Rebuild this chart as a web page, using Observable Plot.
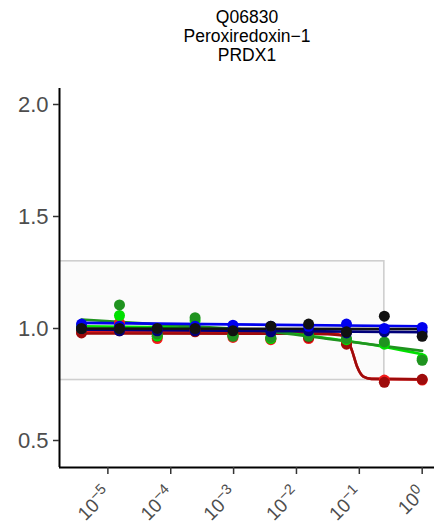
<!DOCTYPE html>
<html><head><meta charset="utf-8">
<script src="https://cdn.jsdelivr.net/npm/d3@7"></script>
<script src="https://cdn.jsdelivr.net/npm/@observablehq/plot@0.6"></script>
<style>
body{margin:0;background:#fff;font-family:"Liberation Sans",Arial,Helvetica,sans-serif;}
#title{box-sizing:border-box;height:72px;padding-top:8px;padding-left:55px;text-align:center;font-size:17.5px;line-height:19px;color:#000;}
#chart svg{display:block;}
</style></head><body>
<div id="title"><div>Q06830</div><div>Peroxiredoxin−1</div><div>PRDX1</div></div>
<div id="chart"></div>
<script>
// ---- data ----
const titleLines = ["Q06830", "Peroxiredoxin−1", "PRDX1"];
const doses = [3.81e-6, 1.53e-5, 6.10e-5, 2.44e-4, 9.77e-4, 3.91e-3, 1.56e-2, 6.25e-2, 0.25, 1];
const seriesNames = ["s1", "s2", "s3", "s4", "s5", "s6", "s7"];
const seriesColors = ["#f21c1c", "#9e0b0b", "#00e000", "#1f931f", "#00007a", "#0000ee", "#111111"];

const s1Vals = [0.985, 1.025, 0.955, 0.990, 0.960, 0.950, 0.955, 0.935, 0.770, 0.770];
const s2Vals = [0.980, 0.990, 0.965, 0.985, 0.970, 0.955, 0.960, 0.930, 0.760, 0.773];
const s3Vals = [1.010, 1.058, 0.966, 1.035, 0.970, 0.955, 0.970, 0.950, 0.930, 0.865];
const s4Vals = [1.000, 1.105, 0.975, 1.048, 0.965, 0.960, 0.965, 0.955, 0.940, 0.858];
const s5Vals = [1.000, 0.990, 0.990, 0.990, 0.995, 0.985, 0.990, 0.980, 0.985, 0.985];
const s6Vals = [1.020, 1.010, 1.000, 1.010, 1.015, 1.010, 1.010, 1.020, 1.000, 1.005];
const s7Vals = [1.000, 1.000, 1.000, 1.000, 0.990, 1.010, 1.020, 0.985, 1.055, 0.965];

// fitted curves (dose, value)
const s1CurveDose = [3.81e-6, 1e-2, 3.16e-2, 5.0e-2, 6.3e-2, 7.67e-2, 9.2e-2, 0.116, 0.156, 1];
const s1CurveVal  = [0.985, 0.983, 0.980, 0.972, 0.955, 0.900, 0.830, 0.785, 0.775, 0.773];
const s2CurveDose = [3.81e-6, 1e-2, 3.16e-2, 5.0e-2, 6.3e-2, 7.67e-2, 9.2e-2, 0.116, 0.156, 1];
const s2CurveVal  = [0.978, 0.977, 0.975, 0.970, 0.955, 0.900, 0.830, 0.785, 0.775, 0.773];
const s3CurveDose = [3.81e-6, 1e-4, 1e-3, 3.98e-3, 3.47e-2, 0.25, 1];
const s3CurveVal  = [1.010, 1.005, 0.998, 0.988, 0.955, 0.918, 0.885];
const s4CurveDose = [3.81e-6, 1e-4, 2.69e-3, 3.47e-2, 1];
const s4CurveVal  = [1.040, 1.015, 0.990, 0.952, 0.900];
const s5CurveDose = [3.81e-6, 1];
const s5CurveVal  = [0.995, 0.984];
const s6CurveDose = [3.81e-6, 1];
const s6CurveVal  = [1.025, 1.010];
const s7CurveDose = [3.81e-6, 1];
const s7CurveVal  = [1.000, 0.998];

const bandLow = 0.77, bandHigh = 1.3, bandDoseMax = 0.25;
const xDomain = [1.7e-6, 1.57];
const yDomain = [0.3795, 2.0714];
const xTicks = [1e-5, 1e-4, 1e-3, 1e-2, 1e-1, 1];
const yTicks = [0.5, 1.0, 1.5, 2.0];

// ---- tables ----
const pointVals = {s1: s1Vals, s2: s2Vals, s3: s3Vals, s4: s4Vals, s5: s5Vals, s6: s6Vals, s7: s7Vals};
const curveDefs = {
  s1: [s1CurveDose, s1CurveVal], s2: [s2CurveDose, s2CurveVal], s3: [s3CurveDose, s3CurveVal],
  s4: [s4CurveDose, s4CurveVal], s5: [s5CurveDose, s5CurveVal], s6: [s6CurveDose, s6CurveVal],
  s7: [s7CurveDose, s7CurveVal]
};
const points = [], curves = [];
for (const s of seriesNames) {
  pointVals[s].forEach((v, i) => points.push({series: s, dose: doses[i], value: v}));
  const [cd, cv] = curveDefs[s];
  cd.forEach((d, i) => curves.push({series: s, dose: d, value: cv[i]}));
}
const band = [{x1: xDomain[0], x2: bandDoseMax, y1: bandLow, y2: bandHigh}];

const font = "Liberation Sans, Arial, Helvetica, sans-serif";
const plot = Plot.plot({
  width: 439, height: 454,
  marginTop: 16, marginBottom: 59, marginLeft: 59, marginRight: 5,
  style: {fontFamily: font, background: "#fff", overflow: "visible"},
  x: {type: "log", domain: xDomain},
  y: {domain: yDomain},
  color: {type: "ordinal", domain: seriesNames, range: seriesColors},
  marks: [
    Plot.rect(band, {x1: "x1", x2: "x2", y1: "y1", y2: "y2", fill: "#fbfbfb", stroke: "#cfcfcf", strokeWidth: 1.6}),
    Plot.line(curves, {x: "dose", y: "value", z: "series", stroke: "series", strokeWidth: 2.6, curve: "monotone-x"}),
    Plot.dot(points, {x: "dose", y: "value", fill: "series", r: 5.5}),
    Plot.ruleX([xDomain[0]], {stroke: "#000", strokeWidth: 2}),
    Plot.ruleY([yDomain[0]], {stroke: "#000", strokeWidth: 2}),
    Plot.axisY({ticks: yTicks, tickFormat: d3.format(".1f"), tickSize: 6, tickPadding: 5, label: null, stroke: "#333", fill: "#4d4d4d", fontSize: 22, strokeWidth: 1.5}),
    Plot.axisX({ticks: xTicks, tickFormat: d => "10^" + Math.round(Math.log10(d)), tickSize: 7, tickPadding: 16, tickRotate: -45, label: null, stroke: "#333", fill: "#4d4d4d", fontSize: 19, strokeWidth: 1.5})
  ]
});
document.getElementById("chart").appendChild(plot);

plot.querySelectorAll('g[aria-label="y-axis tick label"] text').forEach(t => {
  t.style.fontSize = "22px";
});
// superscript exponents on the x tick labels
plot.querySelectorAll('g[aria-label="x-axis tick label"] text').forEach(t => {
  const s = t.textContent;
  const m = s.match(/^10\^(-?\d+)$/);
  if (!m) return;
  const e = m[1].replace("-", "−");
  t.textContent = "";
  t.style.fontSize = "19px";
  const ns = "http://www.w3.org/2000/svg";
  const base = document.createElementNS(ns, "tspan");
  base.textContent = "10";
  const sup = document.createElementNS(ns, "tspan");
  sup.textContent = e;
  sup.setAttribute("dy", "-0.5em");
  sup.style.fontSize = "14.5px";
  t.appendChild(base);
  t.appendChild(sup);
});
</script>
</body></html>
